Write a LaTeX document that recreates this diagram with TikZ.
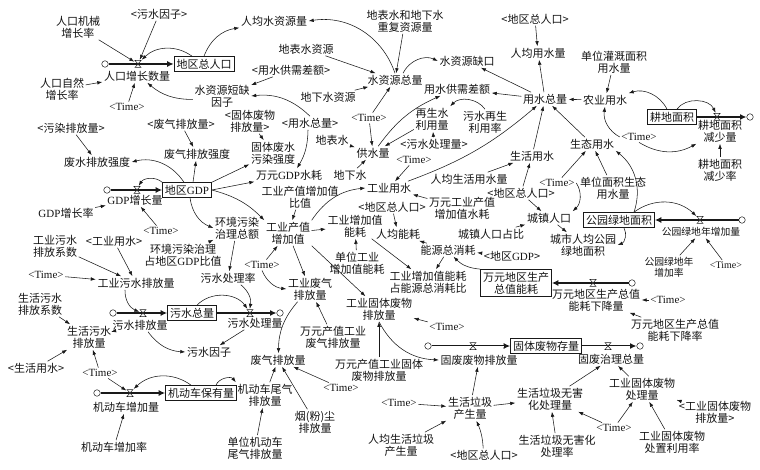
\documentclass[tikz,border=0pt]{standalone}
\usepackage{fontspec}
\setmainfont{Liberation Serif}
\newfontfamily\cjk{Noto Sans CJK SC}
\usepackage{tikz}
\usetikzlibrary{
  arrows.meta
}
\definecolor{linecolor}{RGB}{25, 25, 25}
\definecolor{labelcolor}{RGB}{20, 20, 20}
\tikzset{
var/.style={
  font=\cjk\fontsize{11}{12}\selectfont,
  align=center,
  inner sep=1.5pt,
  text=labelcolor
},
smallvar/.style={
  var,
  font=\cjk\fontsize{9.8}{11}\selectfont
},
timevar/.style={
  font=\rmfamily\fontsize{11}{12}\selectfont,
  inner sep=1.5pt,
  text=labelcolor
},
smalltime/.style={
  timevar,
  font=\rmfamily\fontsize{10}{11}\selectfont
},
stock/.style={
  var,
  draw=linecolor,
  line width=0.6pt,
  inner sep=2.5pt
},
cloudnode/.style={
  draw=linecolor,
  circle,
  fill=white,
  inner sep=0pt,
  minimum size=6.5pt,
  line width=0.5pt
},
valve/.style={
  inner sep=0pt,
  minimum width=7pt,
  minimum height=8pt
},
link/.style={
  -{Latex[length=5pt,width=3.6pt]},
  line width=0.55pt,
  draw=linecolor
},
pipe/.style={
  -{Latex[length=6.5pt,width=6pt]},
  line width=1.9pt,
  draw=linecolor
},
pipecore/.style={
  draw=white,
  line width=0.7pt,
  shorten >=6.5pt,
  shorten <=0.5pt
}
}
\newcommand{\valvemark}[1]{%
  \filldraw[fill=white, draw=linecolor, line width=0.5pt]
    ([xshift=-3pt,yshift=3.5pt]#1.center) -- ([xshift=3pt,yshift=3.5pt]#1.center)
    -- ([xshift=-3pt,yshift=-3.5pt]#1.center) -- ([xshift=3pt,yshift=-3.5pt]#1.center) -- cycle}

\begin{document}
\begin{tikzpicture}[x=1pt, y=-1pt]
  \useasboundingbox[fill=white] (0,0) rectangle (760,470);
  % Population
  \node[var] (mechrate) at (78,27) {人口机械\\增长率};
  \node[var] (wfacA) at (159,14) {<污水因子>};
  \node[var] (natrate) at (62,89) {人口自然\\增长率};
  \node[stock] (pop) at (204,64) {地区总人口};
  \node[cloudnode] (cpop) at (105,64) {};
  \node[var] (popgrow) at (137,76) {人口增长数量};
  \node[timevar] (timeA) at (127,107) {<Time>};
  % Water resources
  \node[var] (wrpc) at (274,21) {人均水资源量};
  \node[var] (rewr) at (405,21) {地表水和地下水\\重复资源量};
  \node[var] (surfres) at (306,49) {地表水资源};
  \node[var] (wrtotal) at (395,80) {水资源总量};
  \node[var] (gapA) at (291,70) {<用水供需差额>};
  \node[var] (shortfac) at (222,96) {水资源短缺\\因子};
  \node[var] (groundres) at (328,97) {地下水资源};
  \node[var] (solidA) at (250,121) {<固体废物\\排放量>};
  \node[var] (usetotA) at (310,123) {<用水总量>};
  \node[timevar] (timeB) at (369,118) {<Time>};
  \node[var] (surf) at (332,140) {地表水};
  \node[var] (supply) at (373,153) {供水量};
  \node[var] (ground) at (350,175) {地下水};
  \node[var] (wgap) at (467,61) {水资源缺口};
  \node[var] (gap) at (457,89) {用水供需差额};
  \node[var] (reuse) at (432,119) {再生水\\利用量};
  \node[var] (reuserate) at (485,122) {污水再生\\利用率};
  \node[var] (treatA) at (434,144) {<污水处理量>};
  \node[var] (popB) at (535,19) {<地区总人口>};
  \node[var] (usepc) at (538,53) {人均用水量};
  \node[var] (usetot) at (545,99) {用水总量};
  % Water use
  \node[var] (agri) at (605,100) {农业用水};
  \node[var] (irrig) at (614,62) {单位灌溉面积\\用水量};
  \node[stock] (farm) at (672,117) {耕地面积};
  \node[cloudnode] (cfarm) at (750,117) {};
  \node[var] (farmdec) at (720,131) {耕地面积\\减少量};
  \node[timevar] (timeC) at (639,137) {<Time>};
  \node[var] (eco) at (592,144) {生态用水};
  \node[var] (farmrate) at (720,170) {耕地面积\\减少率};
  \node[var] (ecounit) at (613,188) {单位面积生态\\用水量};
  \node[stock] (park) at (619,220) {公园绿地面积};
  \node[cloudnode] (cpark) at (742,220) {};
  \node[smallvar] (parkinc) at (701,232) {公园绿地年增加量};
  \node[smallvar] (parkrate) at (669,267) {公园绿地年\\增加率};
  \node[smalltime] (timeD) at (726,265) {<Time>};
  \node[var] (parkpc) at (583,245) {城市人均公园\\绿地面积};
  \node[var] (life) at (532,156) {生活用水};
  \node[var] (lifepc) at (469,179) {人均生活用水量};
  \node[timevar] (timeE) at (557,183) {<Time>};
  \node[var] (popC) at (521,193) {<地区总人口>};
  \node[var] (urban) at (549,218) {城镇人口};
  \node[var] (urbanrate) at (491,234) {城镇人口占比};
  \node[var] (induse) at (389,188) {工业用水};
  \node[timevar] (timeF) at (414,160) {<Time>};
  \node[var] (induseunit) at (462,208) {万元工业产值\\增加值水耗};
  % Energy
  \node[var] (popD) at (392,207) {<地区总人口>};
  \node[var] (energypc) at (398,234) {人均能耗};
  \node[var] (indenergy) at (355,226) {工业增加值\\能耗};
  \node[var] (indenergyunit) at (357,263) {单位工业\\增加值能耗};
  \node[var] (energy) at (448,250) {能源总消耗};
  \node[var] (gdpB) at (512,256) {<地区{\rmfamily GDP}>};
  \node[var] (energyshare) at (428,282) {工业增加值能耗\\占能源总消耗比};
  \node[stock] (gdpenergy) at (516,283) {万元地区生产\\总值能耗};
  \node[cloudnode] (cgdpenergy) at (632,283) {};
  \node[var] (gedec) at (596,300) {万元地区生产总值\\能耗下降量};
  \node[timevar] (timeG) at (668,300) {<Time>};
  \node[var] (gedecrate) at (675,330) {万元地区生产总值\\能耗下降率};
  % GDP
  \node[stock] (gdp) at (187,190) {地区{\rmfamily GDP}};
  \node[cloudnode] (cgdp) at (107,190) {};
  \node[var] (gdpinc) at (135,200) {{\rmfamily GDP}增长量};
  \node[var] (gdprate) at (66,213) {{\rmfamily GDP}增长率};
  \node[timevar] (timeH) at (161,231) {<Time>};
  \node[var] (pollA) at (71,128) {<污染排放量>};
  \node[var] (wwint) at (97,162) {废水排放强度};
  \node[var] (gasA) at (181,124) {<废气排放量>};
  \node[var] (gasint) at (197,154) {废气排放强度};
  \node[var] (solidint) at (273,153) {固体废水\\污染强度};
  \node[var] (gdpwater) at (289,175) {万元{\rmfamily GDP}水耗};
  \node[var] (indratio) at (300,197) {工业产值增加值\\比值};
  \node[var] (indval) at (288,233) {工业产值\\增加值};
  \node[var] (envinv) at (237,228) {环境污染\\治理总额};
  \node[var] (envratio) at (183,255) {环境污染治理\\占地区{\rmfamily GDP}比值};
  \node[timevar] (timeI) at (262,265) {<Time>};
  \node[var] (treatrate) at (228,278) {污水处理率};
  \node[var] (indgas) at (310,289) {工业废气\\排放量};
  \node[var] (indsolid) at (379,309) {工业固体废物\\排放量};
  % Wastewater
  \node[var] (induseA) at (114,241) {<工业用水>};
  \node[var] (indwwcoef) at (55,246) {工业污水\\排放系数};
  \node[timevar] (timeJ) at (46,275) {<Time>};
  \node[var] (indww) at (136,283) {工业污水排放量};
  \node[var] (lifewwcoef) at (40,304) {生活污水\\排放系数};
  \node[var] (lifeww) at (89,337) {生活污水\\排放量};
  \node[var] (lifeA) at (36,368) {<生活用水>};
  \node[timevar] (timeK) at (100,373) {<Time>};
  \node[stock] (ww) at (192,313) {污水总量};
  \node[cloudnode] (cwwin) at (113,313) {};
  \node[cloudnode] (cwwout) at (280,313) {};
  \node[var] (wwin) at (140,325) {污水排放量};
  \node[var] (wwout) at (255,323) {污水处理量};
  \node[var] (wwfac) at (209,352) {污水因子};
  % Vehicles and waste gas
  \node[stock] (car) at (201,393) {机动车保有量};
  \node[cloudnode] (ccar) at (97,393) {};
  \node[var] (carinc) at (126,407) {机动车增加量};
  \node[var] (carrate) at (114,447) {机动车增加率};
  \node[var] (cargas) at (265,395) {机动车尾气\\排放量};
  \node[var] (gas) at (278,360) {废气排放量};
  \node[var] (indgasunit) at (333,337) {万元产值工业\\废气排放量};
  \node[timevar] (timeL) at (341,388) {<Time>};
  \node[var] (dust) at (315,422) {烟(粉)尘\\排放量};
  \node[var] (cargasunit) at (255,448) {单位机动车\\尾气排放量};
  % Solid waste
  \node[var] (indsolidunit) at (379,370) {万元产值工业固体\\废物排放量};
  \node[timevar] (timeM) at (447,327) {<Time>};
  \node[stock] (solid) at (546,346) {固体废物存量};
  \node[cloudnode] (csolidin) at (428,346) {};
  \node[cloudnode] (csolidout) at (640,346) {};
  \node[var] (solidin) at (479,360) {固废废物排放量};
  \node[var] (solidout) at (611,359) {固废治理总量};
  \node[var] (garbage) at (470,408) {生活垃圾\\产生量};
  \node[timevar] (timeN) at (399,403) {<Time>};
  \node[var] (garbagepc) at (401,445) {人均生活垃圾\\产生量};
  \node[var] (popE) at (484,455) {<地区总人口>};
  \node[var] (garbagesafe) at (550,399) {生活垃圾无害\\化处理量};
  \node[var] (garbagerate) at (557,446) {生活垃圾无害化\\处理率};
  \node[timevar] (timeO) at (614,428) {<Time>};
  \node[var] (indsolidtreat) at (642,389) {工业固体废物\\处理量};
  \node[var] (solidB) at (715,412) {<工业固体废物\\排放量>};
  \node[var] (indsolidrate) at (672,442) {工业固体废物\\处置利用率};

  % Pipes
  \draw[pipe] (cpop.east) -- (pop.west);
  \draw[pipe] (farm.east) -- (cfarm.west);
  \draw[pipe] (cpark.west) -- (park.east);
  \draw[pipe] (cgdpenergy.west) -- (gdpenergy.east);
  \draw[pipe] (cgdp.east) -- (gdp.west);
  \draw[pipe] (cwwin.east) -- (ww.west);
  \draw[pipe] (ww.east) -- (cwwout.west);
  \draw[pipe] (ccar.east) -- (car.west);
  \draw[pipe] (csolidin.east) -- (solid.west);
  \draw[pipe] (solid.east) -- (csolidout.west);
  \draw[pipecore] (csolidin.east) -- (solid.west);
  \draw[pipecore] (solid.east) -- (csolidout.west);
  % Valves
  \node[valve] (vpop) at (138,64) {};
  \node[valve] (vfarm) at (717,117) {};
  \node[valve] (vpark) at (700,220) {};
  \node[valve] (vgdpenergy) at (593,283) {};
  \node[valve] (vgdp) at (137,190) {};
  \node[valve] (vwwin) at (143,313) {};
  \node[valve] (vwwout) at (250,313) {};
  \node[valve] (vcar) at (130,393) {};
  \node[valve] (vsolidin) at (473,346) {};
  \node[valve] (vsolidout) at (608,346) {};
  \foreach \v in {vpop,vfarm,vpark,vgdpenergy,vgdp,vwwin,vwwout,vcar,vsolidin,vsolidout}
    {\valvemark{\v};}

  % Population links
  \draw[link] (mechrate) -- (vpop);
  \draw[link] (wfacA) -- (vpop);
  \draw[link] (natrate) -- (popgrow);
  \draw[link] (timeA) -- (popgrow);
  \draw[link] ([xshift=-12pt]pop.north) to[bend right=40] (vpop);
  \draw[link] (shortfac) to[bend left=20] (popgrow);
  \draw[link] (pop.north) to[bend left=30] (wrpc.south west);
  % Water links
  \draw[link] (wrtotal.north) to[bend right=40] (wrpc.east);
  \draw[link] (rewr) -- (wrtotal);
  \draw[link] (surfres) -- (wrtotal);
  \draw[link] (groundres) -- (wrtotal);
  \draw[link] ([xshift=8pt]wrtotal.north) to[bend left=45] (wgap.west);
  \draw[link] (usetot) -- (wgap);
  \draw[link] (usetot) -- (gap);
  \draw[link] (supply) to[bend left=15] (gap);
  \draw[link] (reuserate.north) to[bend right=50] (reuse.north east);
  \draw[link] (treatA) -- (reuse);
  \draw[link] (reuse) -- (supply);
  \draw[link] (surf) -- (supply);
  \draw[link] (ground) -- (supply);
  \draw[link] (timeB) -- (wrtotal);
  \draw[link] (timeB) -- (supply);
  \draw[link] (gapA) -- (shortfac);
  \draw[link] (usetotA.north) to[bend right=25] (shortfac.east);
  \draw[link] ([xshift=-2pt]usetotA.south) to[bend left=15] ([xshift=8pt]gdpwater.north);
  \draw[link] (solidA) -- (solidint);
  \draw[link] (popB) -- (usepc);
  \draw[link] (usetot) -- (usepc);
  \draw[link] (agri) -- (usetot);
  \draw[link] (irrig) -- (agri);
  \draw[link] ([xshift=-5pt]farm.north) to[bend right=40] (agri.north east);
  \draw[link] ([xshift=5pt]farm.north) to[bend left=60] (vfarm);
  \draw[link] (timeC.west) to[bend left=35] (agri.south);
  \draw[link] (timeC.south) to[bend right=30] (farmdec.south west);
  \draw[link] (eco) -- (usetot);
  \draw[link] (farmrate) -- (farmdec);
  \draw[link] (life) -- (usetot);
  \draw[link] (induse) to[bend right=10] (usetot);
  \draw[link] (timeE) -- (eco);
  \draw[link] (ecounit) -- (eco);
  \draw[link] ([xshift=15pt]park.north) to[bend right=35] (eco.south east);
  \draw[link] ([xshift=5pt]park.south) to[bend left=50] (parkpc.east);
  \draw[link] ([xshift=15pt]park.north) to[bend left=40] (vpark);
  \draw[link] (parkrate) -- (parkinc);
  \draw[link] (timeD) -- (parkinc);
  \draw[link] (lifepc) -- (life);
  \draw[link] (popC) -- (life);
  \draw[link] (popC) -- (urban);
  \draw[link] (timeE.east) to[bend left=40] (urban.north east);
  \draw[link] (urbanrate) -- (urban);
  \draw[link] (urban) -- (parkpc);
  \draw[link] (timeF) -- (induse);
  \draw[link] (induseunit) -- (induse);
  % Energy links
  \draw[link] (popD) -- (energypc);
  \draw[link] (energy) -- (energypc);
  \draw[link] (energy) -- (energyshare);
  \draw[link] (gdpB) -- (energy);
  \draw[link] (gdpenergy.north west) to[bend left=20] (energy);
  \draw[link] (indenergy) -- (energyshare);
  \draw[link] (indval) -- (indenergy);
  \draw[link] (indenergyunit) -- (indenergy);
  \draw[link] (gedecrate) -- (gedec);
  \draw[link] (timeG) -- (gedec);
  % GDP links
  \draw[link] (indval.north east) to[bend left=25] (induse.west);
  \draw[link] (indratio) -- (indval);
  \draw[link] (gdp.east) to[bend left=15] (indval.north west);
  \draw[link] (gdp.east) -- (gdpwater);
  \draw[link] (gdp.north east) -- (solidint);
  \draw[link] ([xshift=3pt]gdp.south) to[bend right=30] (envinv.west);
  \draw[link] (envratio) -- (envinv);
  \draw[link] (envinv) -- (treatrate);
  \draw[link] (timeI) -- (indval);
  \draw[link] (timeI.south) to[bend right=30] (indgas.west);
  \draw[link] (indval) -- (indgas);
  \draw[link] (indval.south east) -- (indsolid);
  \draw[link] (gasA) -- (gasint);
  \draw[link] (pollA) -- (wwint);
  \draw[link] ([xshift=-3pt]gdp.north) to[bend right=35] (wwint.east);
  \draw[link] ([xshift=6pt]gdp.north) -- (gasint);
  \draw[link] (gdp.north west) to[bend right=50] (vgdp);
  \draw[link] (gdprate) -- (gdpinc);
  \draw[link] (timeH) -- (gdpinc);
  % Wastewater links
  \draw[link] (induseA) -- (indww);
  \draw[link] (indwwcoef) -- (indww);
  \draw[link] (timeJ) -- (indww);
  \draw[link] ([xshift=-11pt]indww.south) to[bend right=35] (vwwin);
  \draw[link] (lifewwcoef) -- (lifeww);
  \draw[link] (lifeA) -- (lifeww);
  \draw[link] (lifeww) -- (wwin);
  \draw[link] (timeK) -- (lifeww);
  \draw[link] ([xshift=8pt]wwin.south) to[bend right=25] (wwfac.west);
  \draw[link] (wwout) -- (wwfac);
  \draw[link] ([xshift=5pt]ww.north) to[bend left=50] (vwwout);
  \draw[link] (treatrate) to[bend left=30] (vwwout);
  % Vehicle and gas links
  \draw[link] (timeK) -- (vcar);
  \draw[link] ([xshift=-10pt]car.north) to[bend right=40] (vcar);
  \draw[link] (carrate) -- (carinc);
  \draw[link] ([xshift=15pt]car.north) to[bend left=60] (cargas.north west);
  \draw[link] (cargas) -- (gas);
  \draw[link] (cargasunit) -- (cargas);
  \draw[link] (dust) -- (gas);
  \draw[link] (timeL) -- (gas);
  \draw[link] (indgas) to[bend right=20] (gas);
  \draw[link] (indgasunit) -- (indgas);
  % Solid waste links
  \draw[link] (indsolidunit) -- (indsolid);
  \draw[link] (timeM) -- (indsolid);
  \draw[link] (indsolid.south) to[bend right=30] (solidin.west);
  \draw[link] (garbage) -- (solidin);
  \draw[link] (timeN) -- (garbage);
  \draw[link] (garbagepc) -- (garbage);
  \draw[link] (popE) to[bend right=10] (garbage);
  \draw[link] (garbage) -- (garbagesafe);
  \draw[link] (garbagerate) -- (garbagesafe);
  \draw[link] (garbagesafe) -- (solidout);
  \draw[link] (timeO) -- (garbagesafe);
  \draw[link] (timeO) -- (indsolidtreat);
  \draw[link] (indsolidrate) -- (indsolidtreat);
  \draw[link] (solidB) -- (indsolidtreat);
  \draw[link] (indsolidtreat) -- (solidout);
\end{tikzpicture}
\end{document}
